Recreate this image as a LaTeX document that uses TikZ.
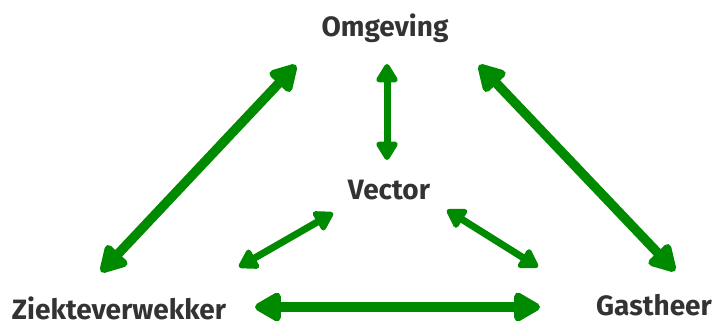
\documentclass[tikz,border=0pt]{standalone}
\usepackage{fontspec}
\setmainfont{Fira Sans}
\usetikzlibrary{arrows.meta}
\definecolor{arrgreen}{HTML}{008A00}
\definecolor{txtgray}{HTML}{333333}
\tikzset{
  lbl/.style={text=txtgray, font=\fontsize{28}{32}\selectfont\bfseries, inner sep=0pt},
  bigarr/.style={draw=arrgreen, line width=9.5pt, {Triangle[length=30pt,width=32pt,round]}-{Triangle[length=30pt,width=32pt,round]}},
  smallarr/.style={draw=arrgreen, line width=7pt, {Triangle[length=21pt,width=24pt,round]}-{Triangle[length=21pt,width=24pt,round]}}
}
\begin{document}
\begin{tikzpicture}[x=1pt,y=-1pt]
\useasboundingbox (0,0) rectangle (721,327);
\node[lbl] (omg) at (385,28) {Omgeving};
\node[lbl] (vec) at (389,190) {Vector};
\node[lbl] (zie) at (119,308) {Ziekteverwekker};
\node[lbl] (gas) at (654,305) {Gastheer};
\coordinate (l1) at (101,272);
\coordinate (l2) at (296,65);
\coordinate (r1) at (479,65);
\coordinate (r2) at (675,271);
\coordinate (h1) at (255,307);
\coordinate (h2) at (540,307);
\coordinate (v1) at (387,64);
\coordinate (v2) at (387,160);
\coordinate (a1) at (239,267);
\coordinate (a2) at (333,213);
\coordinate (b1) at (447,210);
\coordinate (b2) at (538,267);
\draw[bigarr] (l1) -- (l2);
\draw[bigarr] (r1) -- (r2);
\draw[bigarr] (h1) -- (h2);
\draw[smallarr] (v1) -- (v2);
\draw[smallarr] (a1) -- (a2);
\draw[smallarr] (b1) -- (b2);
\end{tikzpicture}
\end{document}
